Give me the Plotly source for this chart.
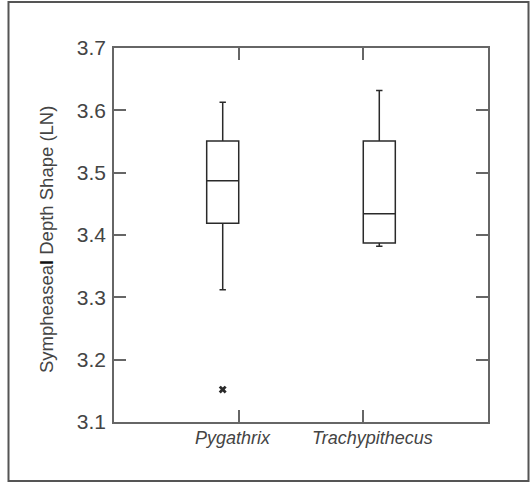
import plotly.graph_objects as go

# Summary statistics per genus (log-transformed symphyseal depth shape)
genera = ["Pygathrix", "Trachypithecus"]
box_pos = [0.872, 2.128]
tick_pos = [1, 2]
label_pos = [0.955, 2.07]
lower_fence = [3.312, 3.382]
q1 = [3.419, 3.387]
median = [3.487, 3.434]
q3 = [3.551, 3.551]
upper_fence = [3.613, 3.632]

# Outlying observation
outlier_x = [0.872]
outlier_y = [3.152]

y_ticks = [3.1, 3.2, 3.3, 3.4, 3.5, 3.6, 3.7]

W, H = 532, 482
ML, MR, MT, MB = 114, 44, 48, 60
pw, ph = W - ML - MR, H - MT - MB

font_family = "Liberation Sans, Arial, Helvetica, sans-serif"
text_col = "#444444"
axis_col = "#666666"
box_col = "#2a2a2a"

fig = go.Figure()
fig.add_trace(go.Box(
    x=box_pos,
    lowerfence=lower_fence, q1=q1, median=median, q3=q3, upperfence=upper_fence,
    width=0.257,
    whiskerwidth=0.2,
    fillcolor="rgba(0,0,0,0)",
    line=dict(color=box_col, width=1.5),
    boxpoints=False,
    hoverinfo="skip",
    showlegend=False,
))
fig.add_trace(go.Scatter(
    x=outlier_x, y=outlier_y, mode="markers",
    marker=dict(symbol="x", size=7, color=box_col, line=dict(width=0)),
    hoverinfo="skip", showlegend=False,
))

def px_x(px):
    return (px - ML) / pw

def px_y(py):
    return (H - MB - py) / ph

# Outer frame around the whole figure
fig.add_shape(type="rect", xref="paper", yref="paper",
              x0=px_x(8.5), x1=px_x(528.5), y0=px_y(481), y1=px_y(2),
              line=dict(color="#555555", width=2), fillcolor="rgba(0,0,0,0)")

# Category labels
for g, xp in zip(genera, label_pos):
    fig.add_annotation(x=xp, y=px_y(438), xref="x", yref="paper",
                       text=f"<i>{g}</i>", showarrow=False,
                       xanchor="center", yanchor="middle",
                       font=dict(family=font_family, size=18, color=text_col))

# Y-axis title
fig.add_annotation(x=px_x(46), y=px_y(240), xref="paper", yref="paper",
                   text="Sympheasea<b><span style='color:#111'>l</span></b> Depth Shape (LN)",
                   textangle=-90, showarrow=False,
                   xanchor="center", yanchor="middle",
                   font=dict(family=font_family, size=18.5, color=text_col))

fig.update_layout(
    width=W, height=H,
    margin=dict(l=ML, r=MR, t=MT, b=MB, pad=0),
    paper_bgcolor="white", plot_bgcolor="white",
    font=dict(family=font_family, color=text_col),
    xaxis=dict(range=[0, 3], tickvals=tick_pos, showticklabels=False,
               ticks="inside", ticklen=12, tickwidth=1.5, tickcolor=axis_col,
               showline=True, linecolor=axis_col, linewidth=1.5, mirror="ticks",
               showgrid=False, zeroline=False, fixedrange=True),
    yaxis=dict(range=[3.1, 3.7], tickvals=y_ticks, tickformat=".1f",
               ticks="inside", ticklen=12, tickwidth=1.5, tickcolor=axis_col,
               showline=True, linecolor=axis_col, linewidth=1.5, mirror="ticks",
               tickfont=dict(family=font_family, size=21, color=text_col),
               ticklabelstandoff=2,
               showgrid=False, zeroline=False, fixedrange=True),
)

fig.write_html("out.html")
